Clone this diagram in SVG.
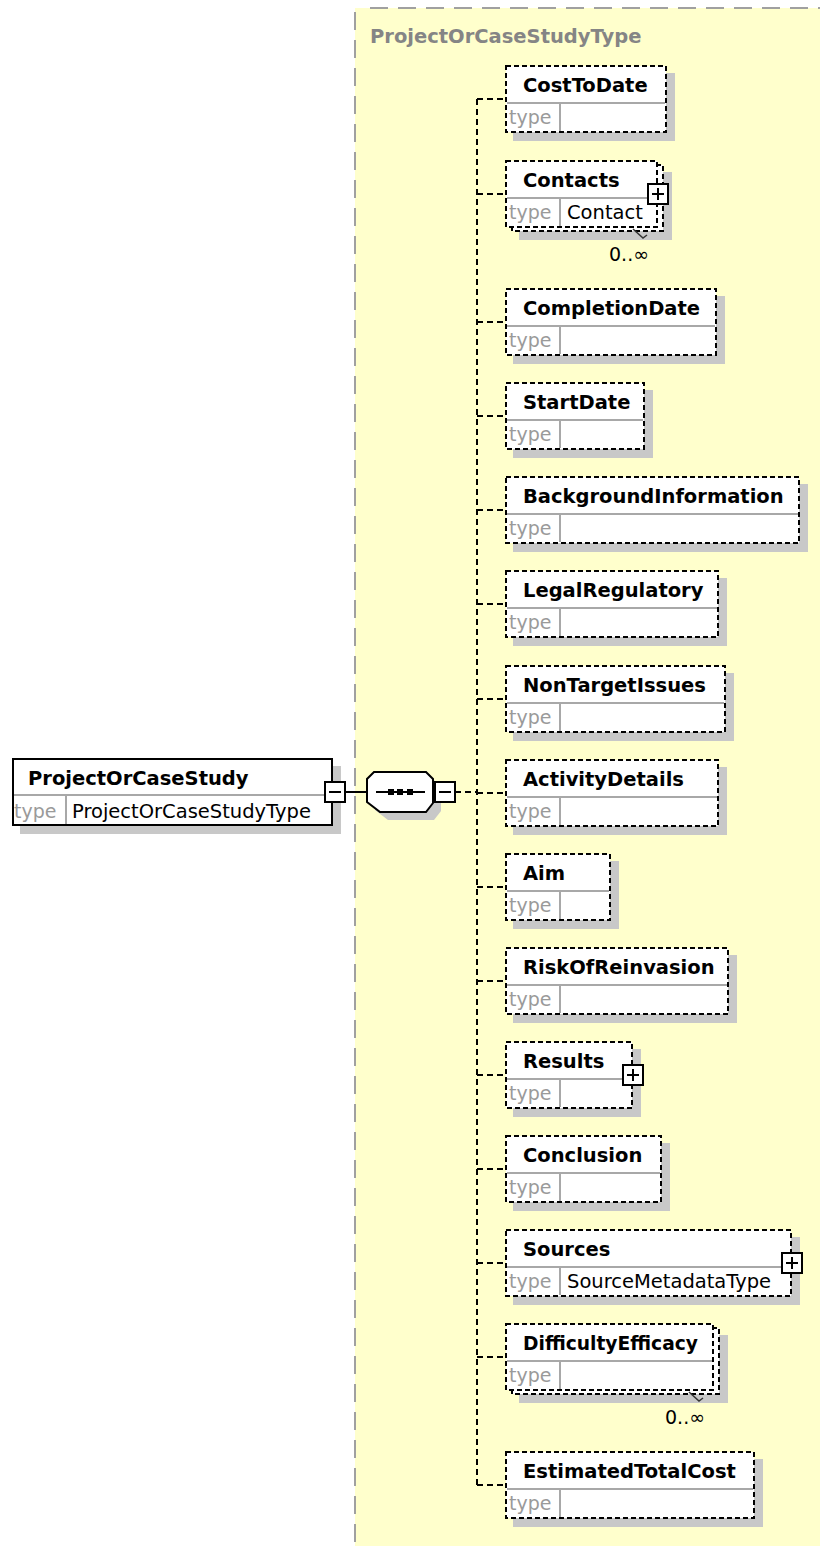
<svg xmlns="http://www.w3.org/2000/svg" width="820" height="1546" viewBox="0 0 820 1546">
  <style>
    .shadow { fill: #c8c8c8; }
    .box { fill: #fff; stroke: #000; stroke-width: 2; stroke-dasharray: 5 3; }
    .solid { fill: #fff; stroke: #000; stroke-width: 2; }
    .div { stroke: #a8a8a8; stroke-width: 2; }
    .name { font-family: "DejaVu Sans", sans-serif; font-weight: bold; font-size: 19.5px; fill: #000; }
    .lbl { font-family: "DejaVu Sans", sans-serif; font-size: 19px; fill: #9a9a9a; }
    .val { font-family: "DejaVu Sans", sans-serif; font-size: 19.5px; fill: #000; }
    .occ { font-family: "DejaVu Sans", sans-serif; font-size: 19px; fill: #000; }
    .conn { fill: none; stroke: #000; stroke-width: 2; stroke-dasharray: 6 4; }
    .wire { fill: none; stroke: #000; stroke-width: 2; }
    .btn { fill: #fff; stroke: #000; stroke-width: 2; }
    .tick { fill: none; stroke: #333; stroke-width: 1.5; }
    .frame { stroke: #a0a0a0; stroke-width: 2; stroke-dasharray: 18 10; fill: none; }
    .title { font-family: "DejaVu Sans", sans-serif; font-weight: bold; font-size: 19.5px; fill: #858585; }
  </style>

  <!-- complex type area -->
  <g id="ProjectOrCaseStudyType">
    <rect x="355" y="8" width="465" height="1538" fill="#ffffcc"/>
    <line class="frame" x1="370" y1="8" x2="820" y2="8"/>
    <line class="frame" x1="355" y1="12" x2="355" y2="1546"/>
    <text class="title" x="370" y="43">ProjectOrCaseStudyType</text>
  </g>

  <!-- connectors -->
  <g id="connectors">
    <line class="wire" x1="344" y1="792" x2="367" y2="792"/>
    <line class="conn" x1="455" y1="792" x2="477" y2="792"/>
    <line class="conn" x1="477" y1="99" x2="477" y2="1485"/>
    <path class="conn" d="M477,99 H505 M477,194 H505 M477,322 H505 M477,416 H505 M477,510 H505 M477,604 H505 M477,699 H505 M477,793 H505 M477,887 H505 M477,981 H505 M477,1075 H505 M477,1169 H505 M477,1263 H505 M477,1357 H505 M477,1485 H505"/>
  </g>

  <!-- root element -->
  <g id="ProjectOrCaseStudy" transform="translate(12,758)">
    <rect class="shadow" x="8" y="8" width="321" height="68"/>
    <rect class="solid" x="1" y="1" width="319" height="66"/>
    <line class="div" x1="2" y1="37" x2="319" y2="37"/>
    <line class="div" x1="54" y1="38" x2="54" y2="66"/>
    <text class="name" x="16" y="27">ProjectOrCaseStudy</text>
    <text class="lbl" x="2" y="60">type</text>
    <text class="val" x="60" y="60">ProjectOrCaseStudyType</text>
    <rect class="btn" x="313" y="24" width="20" height="20"/>
    <line class="wire" x1="317" y1="34" x2="329" y2="34"/>
  </g>

  <!-- sequence compositor -->
  <g id="sequence">
    <path class="shadow" d="M382,780 H434 L441,787 V811 L434,820 H388 L375,810 V787 Z"/>
    <path class="solid" d="M374,772 H426 L433,779 V803 L426,812 H380 L367,802 V779 Z"/>
    <line class="wire" x1="376" y1="792" x2="425" y2="792"/>
    <rect x="388" y="789" width="6" height="6"/>
    <rect x="397" y="789" width="6" height="6"/>
    <rect x="407" y="789" width="6" height="6"/>
    <rect class="btn" x="435" y="782" width="20" height="20"/>
    <line class="wire" x1="439" y1="792" x2="451" y2="792"/>
  </g>

  <!-- child elements -->
  <g id="CostToDate" transform="translate(505,65)">
    <rect class="shadow" x="8" y="8" width="162" height="68"/>
    <rect class="box" x="1" y="1" width="160" height="66"/>
    <line class="div" x1="2" y1="38" x2="160" y2="38"/>
    <line class="div" x1="55" y1="39" x2="55" y2="66"/>
    <text class="name" x="18" y="27">CostToDate</text>
    <text class="lbl" x="4" y="59">type</text>
  </g>

  <g id="Contacts" transform="translate(505,160)">
    <rect class="shadow" x="14" y="12" width="153" height="68"/>
    <rect class="box" x="7" y="5" width="151" height="66"/>
    <rect class="box" x="1" y="1" width="151" height="66"/>
    <line class="div" x1="2" y1="38" x2="151" y2="38"/>
    <line class="div" x1="55" y1="39" x2="55" y2="66"/>
    <text class="name" x="18" y="27">Contacts</text>
    <text class="lbl" x="4" y="59">type</text>
    <text class="val" x="62" y="59">Contact</text>
    <rect class="btn" x="143" y="24" width="20" height="20"/>
    <path class="wire" d="M147,34 H159 M153,28 V40"/>
    <polyline class="tick" points="128,69 138,78 142,75"/>
    <text class="occ" x="104" y="101">0..∞</text>
  </g>

  <g id="CompletionDate" transform="translate(505,288)">
    <rect class="shadow" x="8" y="8" width="212" height="68"/>
    <rect class="box" x="1" y="1" width="210" height="66"/>
    <line class="div" x1="2" y1="38" x2="210" y2="38"/>
    <line class="div" x1="55" y1="39" x2="55" y2="66"/>
    <text class="name" x="18" y="27">CompletionDate</text>
    <text class="lbl" x="4" y="59">type</text>
  </g>

  <g id="StartDate" transform="translate(505,382)">
    <rect class="shadow" x="8" y="8" width="140" height="68"/>
    <rect class="box" x="1" y="1" width="138" height="66"/>
    <line class="div" x1="2" y1="38" x2="138" y2="38"/>
    <line class="div" x1="55" y1="39" x2="55" y2="66"/>
    <text class="name" x="18" y="27">StartDate</text>
    <text class="lbl" x="4" y="59">type</text>
  </g>

  <g id="BackgroundInformation" transform="translate(505,476)">
    <rect class="shadow" x="8" y="8" width="295" height="68"/>
    <rect class="box" x="1" y="1" width="293" height="66"/>
    <line class="div" x1="2" y1="38" x2="293" y2="38"/>
    <line class="div" x1="55" y1="39" x2="55" y2="66"/>
    <text class="name" x="18" y="27">BackgroundInformation</text>
    <text class="lbl" x="4" y="59">type</text>
  </g>

  <g id="LegalRegulatory" transform="translate(505,570)">
    <rect class="shadow" x="8" y="8" width="214" height="68"/>
    <rect class="box" x="1" y="1" width="212" height="66"/>
    <line class="div" x1="2" y1="38" x2="212" y2="38"/>
    <line class="div" x1="55" y1="39" x2="55" y2="66"/>
    <text class="name" x="18" y="27">LegalRegulatory</text>
    <text class="lbl" x="4" y="59">type</text>
  </g>

  <g id="NonTargetIssues" transform="translate(505,665)">
    <rect class="shadow" x="8" y="8" width="221" height="68"/>
    <rect class="box" x="1" y="1" width="219" height="66"/>
    <line class="div" x1="2" y1="38" x2="219" y2="38"/>
    <line class="div" x1="55" y1="39" x2="55" y2="66"/>
    <text class="name" x="18" y="27">NonTargetIssues</text>
    <text class="lbl" x="4" y="59">type</text>
  </g>

  <g id="ActivityDetails" transform="translate(505,759)">
    <rect class="shadow" x="8" y="8" width="214" height="68"/>
    <rect class="box" x="1" y="1" width="212" height="66"/>
    <line class="div" x1="2" y1="38" x2="212" y2="38"/>
    <line class="div" x1="55" y1="39" x2="55" y2="66"/>
    <text class="name" x="18" y="27">ActivityDetails</text>
    <text class="lbl" x="4" y="59">type</text>
  </g>

  <g id="Aim" transform="translate(505,853)">
    <rect class="shadow" x="8" y="8" width="106" height="68"/>
    <rect class="box" x="1" y="1" width="104" height="66"/>
    <line class="div" x1="2" y1="38" x2="104" y2="38"/>
    <line class="div" x1="55" y1="39" x2="55" y2="66"/>
    <text class="name" x="18" y="27">Aim</text>
    <text class="lbl" x="4" y="59">type</text>
  </g>

  <g id="RiskOfReinvasion" transform="translate(505,947)">
    <rect class="shadow" x="8" y="8" width="224" height="68"/>
    <rect class="box" x="1" y="1" width="222" height="66"/>
    <line class="div" x1="2" y1="38" x2="222" y2="38"/>
    <line class="div" x1="55" y1="39" x2="55" y2="66"/>
    <text class="name" x="18" y="27">RiskOfReinvasion</text>
    <text class="lbl" x="4" y="59">type</text>
  </g>

  <g id="Results" transform="translate(505,1041)">
    <rect class="shadow" x="8" y="8" width="128" height="68"/>
    <rect class="box" x="1" y="1" width="126" height="66"/>
    <line class="div" x1="2" y1="38" x2="126" y2="38"/>
    <line class="div" x1="55" y1="39" x2="55" y2="66"/>
    <text class="name" x="18" y="27">Results</text>
    <text class="lbl" x="4" y="59">type</text>
    <rect class="btn" x="118" y="24" width="20" height="20"/>
    <path class="wire" d="M122,34 H134 M128,28 V40"/>
  </g>

  <g id="Conclusion" transform="translate(505,1135)">
    <rect class="shadow" x="8" y="8" width="157" height="68"/>
    <rect class="box" x="1" y="1" width="155" height="66"/>
    <line class="div" x1="2" y1="38" x2="155" y2="38"/>
    <line class="div" x1="55" y1="39" x2="55" y2="66"/>
    <text class="name" x="18" y="27">Conclusion</text>
    <text class="lbl" x="4" y="59">type</text>
  </g>

  <g id="Sources" transform="translate(505,1229)">
    <rect class="shadow" x="8" y="8" width="287" height="68"/>
    <rect class="box" x="1" y="1" width="285" height="66"/>
    <line class="div" x1="2" y1="38" x2="285" y2="38"/>
    <line class="div" x1="55" y1="39" x2="55" y2="66"/>
    <text class="name" x="18" y="27">Sources</text>
    <text class="lbl" x="4" y="59">type</text>
    <text class="val" x="62" y="59">SourceMetadataType</text>
    <rect class="btn" x="277" y="24" width="20" height="20"/>
    <path class="wire" d="M281,34 H293 M287,28 V40"/>
  </g>

  <g id="DifficultyEfficacy" transform="translate(505,1323)">
    <rect class="shadow" x="14" y="12" width="209" height="68"/>
    <rect class="box" x="7" y="5" width="207" height="66"/>
    <rect class="box" x="1" y="1" width="207" height="66"/>
    <line class="div" x1="2" y1="38" x2="207" y2="38"/>
    <line class="div" x1="55" y1="39" x2="55" y2="66"/>
    <text class="name" x="18" y="27" textLength="175" lengthAdjust="spacingAndGlyphs">DifficultyEfficacy</text>
    <text class="lbl" x="4" y="59">type</text>
    <polyline class="tick" points="184,69 194,78 198,75"/>
    <text class="occ" x="160" y="101">0..∞</text>
  </g>

  <g id="EstimatedTotalCost" transform="translate(505,1451)">
    <rect class="shadow" x="8" y="8" width="250" height="68"/>
    <rect class="box" x="1" y="1" width="248" height="66"/>
    <line class="div" x1="2" y1="38" x2="248" y2="38"/>
    <line class="div" x1="55" y1="39" x2="55" y2="66"/>
    <text class="name" x="18" y="27">EstimatedTotalCost</text>
    <text class="lbl" x="4" y="59">type</text>
  </g>
</svg>
